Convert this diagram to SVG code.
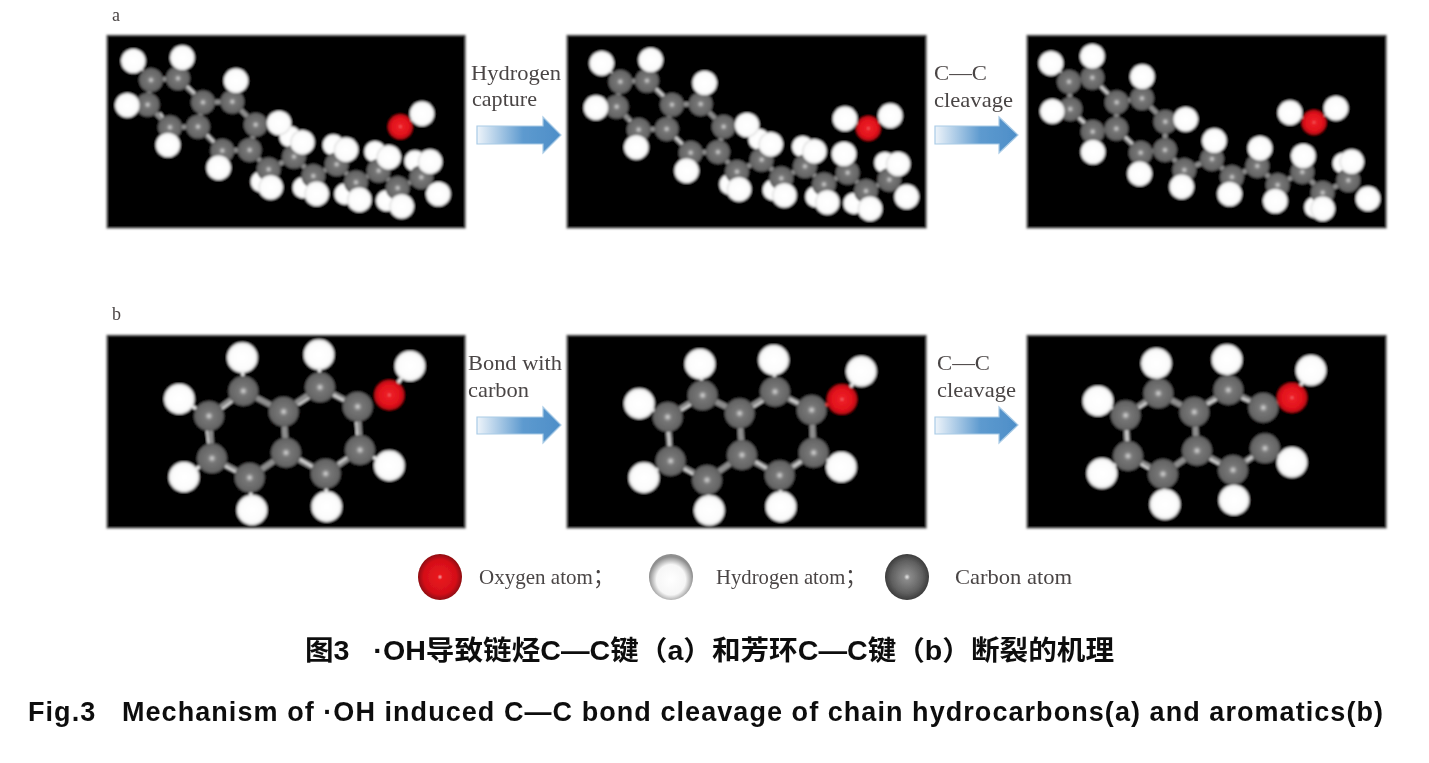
<svg xmlns="http://www.w3.org/2000/svg" width="1429" height="763" viewBox="0 0 1429 763">
<style>
.bg{fill:#040303;stroke:#aaa;stroke-width:2}
.b{fill:none;stroke:#8e8e8e;stroke-width:14}
.w{fill:none;stroke:#e4e4e4;stroke-width:5}
.hb{fill:none;stroke:#e8e8e8;stroke-width:10}
.lab{font-family:"Liberation Serif","Noto Sans CJK SC",serif;font-size:22px;fill:#4a4545}
.tt{font-family:"Liberation Sans","Noto Sans CJK SC",sans-serif;font-weight:700;font-size:27px;fill:#111}
.arr{fill:url(#ga);stroke:#a9cbe6;stroke-width:1.2}
</style>
<defs>
<radialGradient id="gc"><stop offset="0" stop-color="#f0f0f0"/><stop offset=".1" stop-color="#b0b0b0"/><stop offset=".3" stop-color="#767676"/><stop offset=".85" stop-color="#666"/><stop offset="1" stop-color="#555"/></radialGradient>
<radialGradient id="gh"><stop offset="0" stop-color="#fff"/><stop offset=".78" stop-color="#fcfcfc"/><stop offset="1" stop-color="#dcdcdc"/></radialGradient>
<radialGradient id="go"><stop offset="0" stop-color="#f6b0b0"/><stop offset=".1" stop-color="#ee2028"/><stop offset=".75" stop-color="#e0101a"/><stop offset="1" stop-color="#b00c14"/></radialGradient>
<radialGradient id="lc"><stop offset="0" stop-color="#e8e8e8"/><stop offset=".14" stop-color="#8a8a8a"/><stop offset=".7" stop-color="#606060"/><stop offset="1" stop-color="#3c3c3c"/></radialGradient>
<radialGradient id="lh" cy=".56"><stop offset="0" stop-color="#fff"/><stop offset=".66" stop-color="#f6f6f6"/><stop offset="1" stop-color="#8f8f8f"/></radialGradient>
<radialGradient id="lo"><stop offset="0" stop-color="#f0a0a0"/><stop offset=".12" stop-color="#e8161e"/><stop offset=".75" stop-color="#d40f18"/><stop offset="1" stop-color="#8e0c10"/></radialGradient>
<linearGradient id="ga"><stop offset="0" stop-color="#eef4fa"/><stop offset=".55" stop-color="#5d9acf"/><stop offset="1" stop-color="#4d8ec8"/></linearGradient>
<filter id="soft" x="-3%" y="-3%" width="106%" height="106%"><feGaussianBlur stdDeviation="3.4"/></filter>
<filter id="tb" x="-2%" y="-10%" width="104%" height="120%"><feGaussianBlur stdDeviation=".55"/></filter>
<filter id="tb2" x="-2%" y="-10%" width="104%" height="120%"><feGaussianBlur stdDeviation=".3"/></filter>
<circle id="C" r="36" fill="url(#gc)"/>
<circle id="H" r="37" fill="url(#gh)"/>
<circle id="Hb" r="32" fill="url(#gh)"/>
<circle id="O" r="37" fill="url(#go)"/>
<circle id="C2" r="45" fill="url(#gc)"/>
<circle id="H2" r="46" fill="url(#gh)"/>
<circle id="O2" r="45" fill="url(#go)"/>
</defs>
<rect width="1429" height="763" fill="#fff"/>

<g id="panel-a1" transform="translate(100 30) scale(.33333)" filter="url(#soft)">
<rect class="bg" x="20" y="15" width="1077" height="580"/>
<path class="b" d="M153 150L234 145L309 217L397 215L467 284L449 360L367 362L294 290L210 292L143 224L153 150M309 217L294 290M449 360L506 418L582 380L640 438L710 403L768 457L836 422L893 474L964 442"/>
<path class="w" d="M258 165L295 200M180 248L195 270M320 312L350 345M100 93L130 122M901 290L966 251"/>
<use href="#Hb" x="570" y="320"/><use href="#Hb" x="484" y="455"/><use href="#Hb" x="610" y="473"/><use href="#Hb" x="700" y="345"/><use href="#Hb" x="735" y="492"/><use href="#Hb" x="825" y="365"/><use href="#Hb" x="860" y="512"/><use href="#Hb" x="945" y="393"/>
<use href="#C" x="153" y="150"/><use href="#C" x="234" y="145"/><use href="#C" x="309" y="217"/><use href="#C" x="397" y="215"/><use href="#C" x="143" y="224"/><use href="#C" x="210" y="292"/><use href="#C" x="294" y="290"/><use href="#C" x="467" y="284"/><use href="#C" x="367" y="362"/><use href="#C" x="449" y="360"/><use href="#C" x="506" y="418"/><use href="#C" x="582" y="380"/><use href="#C" x="640" y="438"/><use href="#C" x="710" y="403"/><use href="#C" x="768" y="457"/><use href="#C" x="836" y="422"/><use href="#C" x="893" y="474"/><use href="#C" x="964" y="442"/>
<use href="#H" x="100" y="93"/><use href="#H" x="247" y="83"/><use href="#H" x="408" y="152"/><use href="#H" x="82" y="226"/><use href="#H" x="204" y="345"/><use href="#H" x="356" y="413"/><use href="#H" x="537" y="279"/><use href="#H" x="607" y="337"/><use href="#H" x="512" y="472"/><use href="#H" x="650" y="491"/><use href="#H" x="738" y="359"/><use href="#H" x="778" y="509"/><use href="#H" x="866" y="382"/><use href="#H" x="905" y="529"/><use href="#H" x="990" y="395"/><use href="#H" x="1015" y="492"/>
<use href="#H" x="966" y="251"/><use href="#O" x="901" y="290"/>
</g>

<g id="panel-a2" transform="translate(560 30) scale(.33333)" filter="url(#soft)">
<rect class="bg" x="20" y="15" width="1080" height="580"/>
<path class="b" d="M181 155L261 152L336 224L422 222L491 290L474 366L392 368L320 297L236 299L170 230L181 155M336 224L320 297M474 366L531 425L605 389L664 445L735 409L792 463L863 428L918 483L988 449"/>
<path class="w" d="M285 172L322 208M208 270L222 285M345 320L375 350M125 100L158 130M925 295L855 266M925 295L991 257"/>
<use href="#Hb" x="597" y="328"/><use href="#Hb" x="510" y="463"/><use href="#Hb" x="640" y="480"/><use href="#Hb" x="728" y="350"/><use href="#Hb" x="768" y="500"/><use href="#Hb" x="882" y="520"/><use href="#Hb" x="975" y="398"/>
<use href="#C" x="181" y="155"/><use href="#C" x="261" y="152"/><use href="#C" x="336" y="224"/><use href="#C" x="422" y="222"/><use href="#C" x="170" y="230"/><use href="#C" x="236" y="299"/><use href="#C" x="320" y="297"/><use href="#C" x="491" y="290"/><use href="#C" x="392" y="368"/><use href="#C" x="474" y="366"/><use href="#C" x="531" y="425"/><use href="#C" x="605" y="389"/><use href="#C" x="664" y="445"/><use href="#C" x="735" y="409"/><use href="#C" x="792" y="463"/><use href="#C" x="863" y="428"/><use href="#C" x="918" y="483"/><use href="#C" x="988" y="449"/>
<use href="#H" x="125" y="100"/><use href="#H" x="272" y="90"/><use href="#H" x="434" y="159"/><use href="#H" x="108" y="233"/><use href="#H" x="229" y="352"/><use href="#H" x="380" y="422"/><use href="#H" x="561" y="285"/><use href="#H" x="632" y="343"/><use href="#H" x="537" y="478"/><use href="#H" x="673" y="496"/><use href="#H" x="763" y="364"/><use href="#H" x="802" y="517"/><use href="#H" x="852" y="372"/><use href="#H" x="930" y="536"/><use href="#H" x="1014" y="402"/><use href="#H" x="1040" y="500"/>
<use href="#H" x="855" y="266"/><use href="#H" x="991" y="257"/><use href="#O" x="925" y="295"/>
</g>

<g id="panel-a3" transform="translate(1020 30) scale(.33333)" filter="url(#soft)">
<rect class="bg" x="20" y="15" width="1080" height="580"/>
<path class="b" d="M147 155L217 143L290 217L366 205L436 275L435 360L362 368L289 296L218 305L151 237L147 155M290 217L289 296M435 360L493 420L576 387L636 441L712 408L773 465L847 426L908 488L985 451"/>
<path class="w" d="M240 168L272 198M175 262L198 282M315 320L345 348M93 100L125 128M882 277L810 248M882 277L948 235"/>
<use href="#Hb" x="885" y="532"/><use href="#Hb" x="970" y="400"/>
<use href="#C" x="147" y="155"/><use href="#C" x="217" y="143"/><use href="#C" x="290" y="217"/><use href="#C" x="366" y="205"/><use href="#C" x="151" y="237"/><use href="#C" x="218" y="305"/><use href="#C" x="289" y="296"/><use href="#C" x="436" y="275"/><use href="#C" x="362" y="368"/><use href="#C" x="435" y="360"/><use href="#C" x="493" y="420"/><use href="#C" x="576" y="387"/><use href="#C" x="636" y="441"/><use href="#C" x="712" y="408"/><use href="#C" x="773" y="465"/><use href="#C" x="847" y="426"/><use href="#C" x="908" y="488"/><use href="#C" x="985" y="451"/>
<use href="#H" x="93" y="100"/><use href="#H" x="217" y="79"/><use href="#H" x="367" y="140"/><use href="#H" x="97" y="244"/><use href="#H" x="219" y="366"/><use href="#H" x="359" y="431"/><use href="#H" x="497" y="268"/><use href="#H" x="583" y="332"/><use href="#H" x="485" y="470"/><use href="#H" x="629" y="492"/><use href="#H" x="720" y="355"/><use href="#H" x="766" y="513"/><use href="#H" x="850" y="378"/><use href="#H" x="908" y="536"/><use href="#H" x="995" y="395"/><use href="#H" x="1044" y="506"/>
<use href="#H" x="810" y="248"/><use href="#H" x="948" y="235"/><use href="#O" x="882" y="277"/>
</g>

<g id="panel-b1" transform="translate(100 330) scale(.33333)" filter="url(#soft)">
<rect class="bg" x="20" y="15" width="1077" height="580"/>
<path class="b" style="stroke-width:17" d="M327 258L430 183L551 245L660 172L773 230L780 360L677 431L558 368L551 245M558 368L449 443L336 385L327 258"/>
<path class="w" d="M362 240L400 212M595 225L630 203M700 195L745 218M768 275L772 325M715 400L745 380M590 382L640 412M375 408L415 430M320 300L326 350"/>
<path class="hb" d="M430 183L427 83M660 172L657 74M327 258L238 207M336 385L252 441M449 443L456 540M677 431L680 530M780 360L868 407M868 195L930 108"/>
<use href="#C2" x="430" y="183"/><use href="#C2" x="660" y="172"/><use href="#C2" x="327" y="258"/><use href="#C2" x="551" y="245"/><use href="#C2" x="773" y="230"/><use href="#C2" x="336" y="385"/><use href="#C2" x="558" y="368"/><use href="#C2" x="780" y="360"/><use href="#C2" x="449" y="443"/><use href="#C2" x="677" y="431"/>
<use href="#H2" x="427" y="83"/><use href="#H2" x="657" y="74"/><use href="#H2" x="238" y="207"/><use href="#H2" x="252" y="441"/><use href="#H2" x="456" y="540"/><use href="#H2" x="680" y="530"/><use href="#H2" x="868" y="407"/><use href="#H2" x="930" y="108"/><use href="#O2" x="868" y="195"/>
</g>

<g id="panel-b2" transform="translate(560 330) scale(.33333)" filter="url(#soft)">
<rect class="bg" x="20" y="15" width="1080" height="580"/>
<path class="b" style="stroke-width:17" d="M323 261L428 196L539 250L645 185L755 240L761 368L659 436L546 375L539 250M546 375L441 450L332 393L323 261"/>
<path class="w" d="M358 245L395 222M580 232L612 212M690 208L725 225M325 305L329 350M700 410L730 390M585 394L625 418M372 416L405 436"/>
<path class="hb" d="M428 196L420 102M645 185L641 90M323 261L238 221M332 393L252 443M441 450L448 541M659 436L663 530M761 368L844 411M846 208L904 124"/>
<path d="M755 240L846 208" fill="none" stroke="#e33" stroke-width="10"/>
<use href="#C2" x="428" y="196"/><use href="#C2" x="645" y="185"/><use href="#C2" x="323" y="261"/><use href="#C2" x="539" y="250"/><use href="#C2" x="755" y="240"/><use href="#C2" x="332" y="393"/><use href="#C2" x="546" y="375"/><use href="#C2" x="761" y="368"/><use href="#C2" x="441" y="450"/><use href="#C2" x="659" y="436"/>
<use href="#H2" x="420" y="102"/><use href="#H2" x="641" y="90"/><use href="#H2" x="238" y="221"/><use href="#H2" x="252" y="443"/><use href="#H2" x="448" y="541"/><use href="#H2" x="663" y="530"/><use href="#H2" x="844" y="411"/><use href="#H2" x="904" y="124"/><use href="#O2" x="846" y="208"/>
</g>

<g id="panel-b3" transform="translate(1020 330) scale(.33333)" filter="url(#soft)">
<rect class="bg" x="20" y="15" width="1080" height="580"/>
<path class="b" style="stroke-width:17" d="M317 256L415 190L523 246L625 180L730 233M735 355L639 420L531 362L523 246M531 362L429 432L324 378L317 256"/>
<path class="w" d="M350 238L385 215M562 222L595 205M665 205L700 218M320 300L322 335M680 392L710 372M568 386L608 408M362 402L395 422"/>
<path class="hb" d="M415 190L409 100M625 180L621 89M317 256L234 213M324 378L246 430M429 432L435 523M639 420L642 510M735 355L816 397M816 203L873 121"/>
<path d="M730 233L816 203" fill="none" stroke="#e33" stroke-width="10"/>
<use href="#C2" x="415" y="190"/><use href="#C2" x="625" y="180"/><use href="#C2" x="317" y="256"/><use href="#C2" x="523" y="246"/><use href="#C2" x="730" y="233"/><use href="#C2" x="324" y="378"/><use href="#C2" x="531" y="362"/><use href="#C2" x="735" y="355"/><use href="#C2" x="429" y="432"/><use href="#C2" x="639" y="420"/>
<use href="#H2" x="409" y="100"/><use href="#H2" x="621" y="89"/><use href="#H2" x="234" y="213"/><use href="#H2" x="246" y="430"/><use href="#H2" x="435" y="523"/><use href="#H2" x="642" y="510"/><use href="#H2" x="816" y="397"/><use href="#H2" x="873" y="121"/><use href="#O2" x="816" y="203"/>
</g>

<g id="connectors" filter="url(#tb)">
<path id="arrow-a1" class="arr" d="M477 126H543V117L561 135L543 153V144H477Z"/>
<path id="arrow-a2" class="arr" d="M935 126H999V117L1018 135L999 153V144H935Z"/>
<path id="arrow-b1" class="arr" d="M477 417H543V407L561 425L543 443V434H477Z"/>
<path id="arrow-b2" class="arr" d="M935 417H999V407L1018 425L999 443V434H935Z"/>
</g>

<g id="labels" filter="url(#tb)">
<text class="lab" x="112" y="21" style="font-size:18px">a</text>
<text class="lab" x="112" y="320" style="font-size:18px">b</text>
<text class="lab" x="471" y="80" textLength="90" lengthAdjust="spacingAndGlyphs">Hydrogen</text>
<text class="lab" x="472" y="106" textLength="65" lengthAdjust="spacingAndGlyphs">capture</text>
<text class="lab" x="934" y="80" textLength="53" lengthAdjust="spacingAndGlyphs">C—C</text>
<text class="lab" x="934" y="107" textLength="79" lengthAdjust="spacingAndGlyphs">cleavage</text>
<text class="lab" x="468" y="370" textLength="94" lengthAdjust="spacingAndGlyphs">Bond with</text>
<text class="lab" x="468" y="397" textLength="61" lengthAdjust="spacingAndGlyphs">carbon</text>
<text class="lab" x="937" y="370" textLength="53" lengthAdjust="spacingAndGlyphs">C—C</text>
<text class="lab" x="937" y="397" textLength="79" lengthAdjust="spacingAndGlyphs">cleavage</text>
</g>

<g id="legend-oxygen">
<ellipse cx="440" cy="577" rx="22" ry="23" fill="url(#lo)" filter="url(#tb)"/>
<text class="lab" x="479" y="584" textLength="135" lengthAdjust="spacingAndGlyphs" filter="url(#tb)">Oxygen atom；</text>
</g>
<g id="legend-hydrogen">
<ellipse cx="671" cy="577" rx="22" ry="23" fill="url(#lh)" filter="url(#tb)"/>
<text class="lab" x="716" y="584" textLength="150" lengthAdjust="spacingAndGlyphs" filter="url(#tb)">Hydrogen atom；</text>
</g>
<g id="legend-carbon">
<ellipse cx="907" cy="577" rx="22" ry="23" fill="url(#lc)" filter="url(#tb)"/>
<text class="lab" x="955" y="584" textLength="117" lengthAdjust="spacingAndGlyphs" filter="url(#tb)">Carbon atom</text>
</g>

<g id="captions" filter="url(#tb2)">
<text class="tt" x="305" y="660" textLength="809" lengthAdjust="spacingAndGlyphs">图3&#160;&#160;&#160;·OH导致链烃C—C键（a）和芳环C—C键（b）断裂的机理</text>
<text class="tt" x="28" y="721" textLength="1355">Fig.3&#160;&#160;&#160;Mechanism of ·OH induced C—C bond cleavage of chain hydrocarbons(a) and aromatics(b)</text>
</g>
</svg>
